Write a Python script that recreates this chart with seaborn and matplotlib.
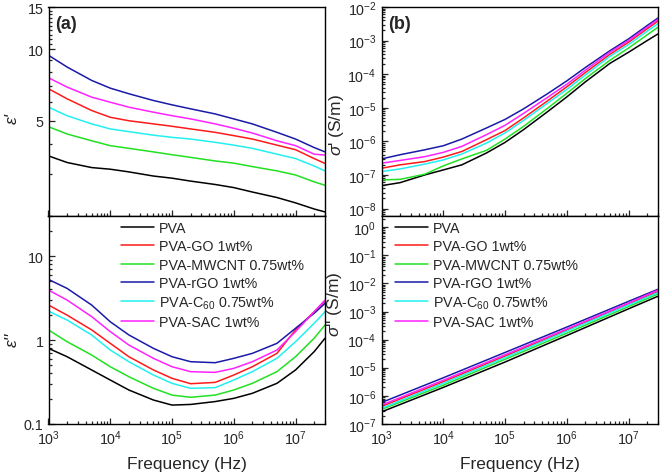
import numpy as np
import pandas as pd
import matplotlib
matplotlib.use("Agg")
import matplotlib.pyplot as plt
import matplotlib.ticker as mticker
import seaborn as sns

# echantillons et couleurs (ordre de la legende)
samples = ["PVA", "PVA-GO 1wt%", "PVA-MWCNT 0.75wt%", "PVA-rGO 1wt%",
           "PVA-C$_{60}$ 0.75wt%", "PVA-SAC 1wt%"]
colors = ["#000000", "#ff1a1a", "#22e022", "#1a1aa8", "#22f0f0", "#ff22ff"]

# frequences lues (Hz)
freq = [1e3, 2e3, 5e3, 1e4, 2e4, 5e4, 1e5, 2e5, 5e5, 1e6, 2e6, 5e6, 1e7, 2e7, 3e7]

# (a) haut : epsilon'
eps1 = [
    [3.57, 3.35, 3.19, 3.14, 3.06, 2.94, 2.88, 2.80, 2.71, 2.63, 2.52, 2.39, 2.27, 2.14, 2.08],
    [6.82, 6.19, 5.53, 5.18, 5.01, 4.86, 4.75, 4.63, 4.48, 4.34, 4.20, 3.96, 3.79, 3.48, 3.32],
    [4.73, 4.41, 4.13, 3.94, 3.84, 3.71, 3.61, 3.52, 3.40, 3.33, 3.22, 3.09, 2.97, 2.78, 2.69],
    [9.42, 8.41, 7.39, 6.86, 6.50, 6.09, 5.84, 5.62, 5.35, 5.10, 4.86, 4.48, 4.20, 3.87, 3.71],
    [5.71, 5.26, 4.86, 4.63, 4.51, 4.36, 4.27, 4.20, 4.07, 3.96, 3.84, 3.63, 3.48, 3.24, 3.09],
    [7.58, 6.93, 6.29, 5.99, 5.71, 5.44, 5.26, 5.10, 4.86, 4.66, 4.45, 4.13, 3.94, 3.63, 3.60],
]

# (a) bas : epsilon''
eps2 = [
    [0.796, 0.633, 0.440, 0.334, 0.254, 0.193, 0.168, 0.171, 0.185, 0.202, 0.232, 0.305, 0.440, 0.726, 1.05],
    [2.61, 1.98, 1.32, 0.913, 0.633, 0.440, 0.350, 0.302, 0.313, 0.383, 0.481, 0.694, 1.32, 2.17, 2.91],
    [1.32, 0.955, 0.663, 0.481, 0.366, 0.266, 0.221, 0.208, 0.221, 0.254, 0.305, 0.420, 0.633, 1.05, 1.51],
    [5.27, 4.12, 2.61, 1.65, 1.15, 0.796, 0.633, 0.552, 0.537, 0.605, 0.694, 0.913, 1.38, 2.08, 2.73],
    [2.21, 1.73, 1.15, 0.760, 0.552, 0.383, 0.305, 0.266, 0.271, 0.334, 0.420, 0.605, 0.955, 1.58, 2.17],
    [3.94, 2.99, 1.90, 1.26, 0.872, 0.605, 0.481, 0.420, 0.412, 0.460, 0.552, 0.760, 1.26, 2.17, 2.99],
]

# (b) haut : sigma' (S/m)
sig1 = [
    [4.8e-8, 5.9e-8, 1.0e-7, 1.41e-7, 2.0e-7, 4.5e-7, 9.3e-7, 2.24e-6, 7.9e-6, 2.1e-5, 5.9e-5, 2.1e-4, 4.5e-4, 1.0e-3, 1.58e-3],
    [1.58e-7, 2.0e-7, 2.5e-7, 3.4e-7, 5.0e-7, 1.12e-6, 2.1e-6, 5.0e-6, 1.66e-5, 4.2e-5, 1.12e-4, 3.9e-4, 8.9e-4, 2.24e-3, 3.8e-3],
    [7.1e-8, 7.4e-8, 1.05e-7, 1.86e-7, 3.0e-7, 5.4e-7, 1.17e-6, 2.8e-6, 1.0e-5, 2.7e-5, 7.4e-5, 2.6e-4, 6.0e-4, 1.48e-3, 2.5e-3],
    [3.0e-7, 4.0e-7, 5.6e-7, 7.4e-7, 1.17e-6, 2.5e-6, 4.5e-6, 9.3e-6, 2.7e-5, 6.3e-5, 1.58e-4, 5.0e-4, 1.12e-3, 2.8e-3, 4.7e-3],
    [1.26e-7, 1.51e-7, 2.1e-7, 2.8e-7, 4.2e-7, 8.9e-7, 1.78e-6, 4.2e-6, 1.41e-5, 3.5e-5, 9.5e-5, 3.4e-4, 7.6e-4, 1.9e-3, 3.2e-3],
    [2.24e-7, 2.7e-7, 3.5e-7, 4.7e-7, 7.1e-7, 1.58e-6, 3.0e-6, 6.8e-6, 2.1e-5, 5.0e-5, 1.32e-4, 4.5e-4, 1.0e-3, 2.5e-3, 4.3e-3],
]

# (b) bas : sigma'' (S/m)
freq_sig2 = [1e3, 1e4, 1e5, 1e6, 1e7, 3e7]
sig2 = [
    [2.7e-7, 2.0e-6, 1.6e-5, 1.4e-4, 1.25e-3, 3.5e-3],
    [4.2e-7, 3.2e-6, 2.6e-5, 2.2e-4, 1.9e-3, 5.1e-3],
    [3.3e-7, 2.4e-6, 2.0e-5, 1.7e-4, 1.5e-3, 4.2e-3],
    [5.8e-7, 4.4e-6, 3.5e-5, 2.8e-4, 2.3e-3, 6.2e-3],
    [3.6e-7, 2.8e-6, 2.3e-5, 2.0e-4, 1.7e-3, 4.7e-3],
    [4.7e-7, 3.6e-6, 2.9e-5, 2.4e-4, 2.0e-3, 5.8e-3],
]


def long_table(fr, table):
    rows = []
    for name, vals in zip(samples, table):
        for f, v in zip(fr, vals):
            rows.append((name, f, v))
    return pd.DataFrame(rows, columns=["sample", "freq", "value"])


sns.set_style("ticks")
plt.rcParams["font.family"] = ["Liberation Sans", "DejaVu Sans"]
plt.rcParams["mathtext.fontset"] = "custom"
plt.rcParams["mathtext.rm"] = "Liberation Sans"
plt.rcParams["mathtext.it"] = "Liberation Sans:italic"
plt.rcParams["mathtext.bf"] = "Liberation Sans:bold"
plt.rcParams["axes.unicode_minus"] = False

fig = plt.figure(figsize=(6.61, 4.77), dpi=100)
W, H = 661, 477


def make_ax(x0, x1, y0, y1):
    return fig.add_axes([x0 / W, 1 - y1 / H, (x1 - x0) / W, (y1 - y0) / H])


ax_a1 = make_ax(48.5, 325, 8, 217)
ax_a2 = make_ax(48.5, 325, 217, 425)
ax_b1 = make_ax(381.5, 658, 8, 217)
ax_b2 = make_ax(381.5, 658, 217, 425)

pal = dict(zip(samples, colors))
panels = [
    (ax_a1, long_table(freq, eps1), False),
    (ax_a2, long_table(freq, eps2), True),
    (ax_b1, long_table(freq, sig1), False),
    (ax_b2, long_table(freq_sig2, sig2), True),
]

for ax, df, show_leg in panels:
    ax.set_xscale("log")
    ax.set_yscale("log")
    sns.lineplot(data=df, x="freq", y="value", hue="sample", hue_order=samples,
                 palette=pal, estimator=None, linewidth=1.1, ax=ax, legend=show_leg)
    ax.set_xlim(1e3, 3e7)
    ax.xaxis.set_major_locator(mticker.LogLocator(base=10, numticks=10))
    ax.xaxis.set_minor_locator(mticker.LogLocator(base=10, subs=np.arange(2, 10), numticks=10))
    ax.xaxis.set_minor_formatter(mticker.NullFormatter())
    ax.yaxis.set_minor_formatter(mticker.NullFormatter())
    ax.tick_params(which="both", direction="in", top=False, right=False,
                   labelsize=10.3, width=0.9)
    ax.tick_params(which="major", length=4.5, pad=3.5)
    ax.tick_params(which="minor", length=2.5)
    for s in ax.spines.values():
        s.set_linewidth(1.0)
        s.set_color("black")
    ax.set_ylabel("")
    ax.set_xlabel("")
    if show_leg:
        handles, labels = ax.get_legend_handles_labels()
        ax.legend(handles, labels, frameon=False, fontsize=10.3, loc="upper left",
                  handlelength=2.3, handletextpad=0.35, labelspacing=0.3,
                  borderpad=0, borderaxespad=0,
                  bbox_to_anchor=(0.262 if ax is ax_a2 else 0.049, 0.975))
        ax.set_xlabel("Frequency (Hz)", fontsize=12.5, labelpad=6)
    else:
        ax.tick_params(axis="x", labelbottom=False)

# (a) epsilon'
ax_a1.set_ylim(2, 15)
ax_a1.yaxis.set_major_locator(mticker.FixedLocator([5, 10, 15]))
ax_a1.yaxis.set_major_formatter(mticker.FixedFormatter(["5", "10", "15"]))
ax_a1.yaxis.set_minor_locator(mticker.FixedLocator(
    [2, 3, 4, 6, 7, 8, 9, 10.5, 11, 11.5, 12, 12.5, 13, 13.5, 14, 14.5]))
ax_a1.set_ylabel("ε'", fontsize=12.5, style="italic")
ax_a1.yaxis.set_label_coords(-0.105, 0.47)
ax_a1.text(0.025, 0.92, "(a)", transform=ax_a1.transAxes, fontsize=13,
           fontweight="bold", va="center", ha="left")

# (a) epsilon''
ax_a2.set_ylim(0.1, 30)
ax_a2.yaxis.set_major_locator(mticker.FixedLocator([0.1, 1, 10]))
ax_a2.yaxis.set_major_formatter(mticker.FixedFormatter(["0.1", "1", "10"]))
ax_a2.yaxis.set_minor_locator(mticker.LogLocator(base=10, subs=np.arange(2, 10), numticks=10))
ax_a2.set_ylabel("ε''", fontsize=12.5, style="italic")
ax_a2.yaxis.set_label_coords(-0.105, 0.41)

# (b) sigma'
ax_b1.set_ylim(6e-9, 1e-2)
ax_b1.yaxis.set_major_locator(mticker.LogLocator(base=10, numticks=12))
ax_b1.yaxis.set_minor_locator(mticker.LogLocator(base=10, subs=np.arange(2, 10), numticks=12))
ax_b1.set_ylabel(r"$\sigma$' (S/m)", fontsize=12.5)
ax_b1.yaxis.set_label_coords(-0.13, 0.44)
ax_b1.text(0.025, 0.92, "(b)", transform=ax_b1.transAxes, fontsize=13,
           fontweight="bold", va="center", ha="left")

# (b) sigma''
ax_b2.set_ylim(1e-7, 2.5)
ax_b2.yaxis.set_major_locator(mticker.LogLocator(base=10, numticks=12))
ax_b2.yaxis.set_minor_locator(mticker.LogLocator(base=10, subs=np.arange(2, 10), numticks=12))
ax_b2.set_ylabel(r"$\sigma$'' (S/m)", fontsize=12.5)
ax_b2.yaxis.set_label_coords(-0.135, 0.58)

fig.savefig("out.png", dpi=100)
